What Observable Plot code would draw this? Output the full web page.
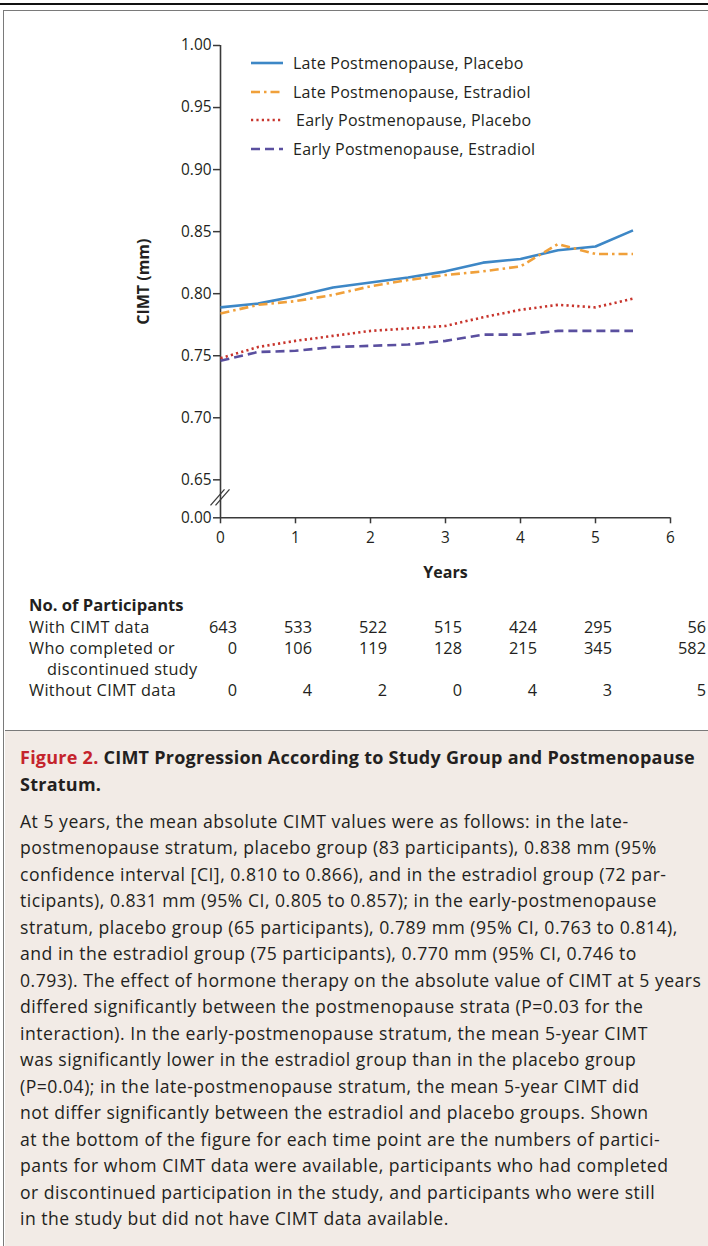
<!DOCTYPE html>
<html>
<head>
<meta charset="utf-8">
<script src="https://cdn.jsdelivr.net/npm/d3@7"></script>
<script src="https://cdn.jsdelivr.net/npm/@observablehq/plot@0.6"></script>
<style>
html, body { margin: 0; padding: 0; background: #fff; }
body { width: 708px; height: 1246px; overflow: hidden; position: relative; font-family: "Open Sans", Lato, sans-serif; color: #231f20; }
#topline { position: absolute; left: 0; top: 3px; width: 708px; height: 2px; background: #111; }
#box { position: absolute; left: 3px; top: 10px; width: 730px; height: 1260px; border: 1.5px solid #7a7a7a; box-sizing: border-box; background: #fff; }
#chart { position: absolute; left: 0; top: 0; }
#legend { position: absolute; left: 251px; top: 49px; font-size: 16px; letter-spacing: 0.25px; }
#legend .row { height: 28.6px; display: flex; align-items: center; white-space: nowrap; }
#legend svg { margin-right: 10px; flex: none; }
#table { position: absolute; left: 29px; top: 594px; font-size: 16.3px; line-height: 21px; letter-spacing: 0.35px; }
#table .head { font-weight: bold; font-size: 16.6px; line-height: 22px; margin-bottom: 1px; letter-spacing: 0; }
#table .grid { display: grid; grid-template-columns: 133px 75px 75px 75px 75px 75px 75px 94px; }
#table .lab { white-space: nowrap; }
#table .lab .ind { padding-left: 18px; }
#table .num { text-align: right; letter-spacing: 0; }
#caption { position: absolute; left: 4.5px; top: 730px; width: 720px; height: 520px; border-top: 1.5px solid #7a7a7a; background: #f2ebe6; }
#caption .title { position: absolute; left: 15.5px; top: 13px; font-weight: bold; font-size: 18px; line-height: 27px; white-space: nowrap; letter-spacing: 0.25px; }
#caption .title .fig { color: #c5242c; }
#caption .body { position: absolute; left: 15.5px; top: 76.5px; font-size: 17.6px; line-height: 26.5px; white-space: nowrap; letter-spacing: 0.5px; }
</style>
</head>
<body>
<div id="topline"></div>
<div id="box"></div>
<div id="chart"></div>
<div id="legend"></div>
<div id="table"></div>
<div id="caption"></div>
<script>
// ---------- data ----------
const years = [0, 0.5, 1, 1.5, 2, 2.5, 3, 3.5, 4, 4.5, 5, 5.5];
const latePlacebo    = [0.789, 0.792, 0.798, 0.805, 0.809, 0.813, 0.818, 0.825, 0.828, 0.835, 0.838, 0.851];
const lateEstradiol  = [0.784, 0.791, 0.794, 0.799, 0.806, 0.811, 0.815, 0.818, 0.822, 0.840, 0.832, 0.832];
const earlyPlacebo   = [0.748, 0.757, 0.762, 0.766, 0.770, 0.772, 0.774, 0.781, 0.787, 0.791, 0.789, 0.796];
const earlyEstradiol = [0.746, 0.753, 0.754, 0.757, 0.758, 0.759, 0.762, 0.767, 0.767, 0.770, 0.770, 0.770];

const seriesNames = ["Late Postmenopause, Placebo", "Late Postmenopause, Estradiol", "Early Postmenopause, Placebo", "Early Postmenopause, Estradiol"];
const seriesValues = [latePlacebo, lateEstradiol, earlyPlacebo, earlyEstradiol];
const seriesColors = ["#3d87c6", "#f0a03a", "#c8352d", "#5a4f9f"];
const seriesDashes = [null, "9,4,2.5,4", "2.2,3.2", "9,5"];

const xTicks = [0, 1, 2, 3, 4, 5, 6];
const yBreak = 0.6194; // position where the broken axis shows 0.00
const yTicks = [yBreak, 0.65, 0.70, 0.75, 0.80, 0.85, 0.90, 0.95, 1.00];
const yLabel = "CIMT (mm)";
const xLabel = "Years";

const tableTitle = "No. of Participants";
const rowLabels = [["With CIMT data"], ["Who completed or", "discontinued study"], ["Without CIMT data"]];
const withCimt      = [643, 533, 522, 515, 424, 295, 56];
const completedDisc = [0, 106, 119, 128, 215, 345, 582];
const withoutCimt   = [0, 4, 2, 0, 4, 3, 5];
const tableRows = [withCimt, completedDisc, withoutCimt];

const captionFig = "Figure 2.";
const captionTitle = [" CIMT Progression According to Study Group and Postmenopause", "Stratum."];
const captionLines = [
  "At 5 years, the mean absolute CIMT values were as follows: in the late-",
  "postmenopause stratum, placebo group (83 participants), 0.838 mm (95%",
  "confidence interval [CI], 0.810 to 0.866), and in the estradiol group (72 par-",
  "ticipants), 0.831 mm (95% CI, 0.805 to 0.857); in the early-postmenopause",
  "stratum, placebo group (65 participants), 0.789 mm (95% CI, 0.763 to 0.814),",
  "and in the estradiol group (75 participants), 0.770 mm (95% CI, 0.746 to",
  "0.793). The effect of hormone therapy on the absolute value of CIMT at 5 years",
  "differed significantly between the postmenopause strata (P=0.03 for the",
  "interaction). In the early-postmenopause stratum, the mean 5-year CIMT",
  "was significantly lower in the estradiol group than in the placebo group",
  "(P=0.04); in the late-postmenopause stratum, the mean 5-year CIMT did",
  "not differ significantly between the estradiol and placebo groups. Shown",
  "at the bottom of the figure for each time point are the numbers of partici-",
  "pants for whom CIMT data were available, participants who had completed",
  "or discontinued participation in the study, and participants who were still",
  "in the study but did not have CIMT data available."
];

// ---------- chart ----------
const fontFamily = '"Open Sans", Lato, sans-serif';
const ink = "#231f20";
const axisColor = "#3a3a3a";

const lineMarks = seriesNames.map((name, i) =>
  Plot.line(years.map((x, j) => ({x, y: seriesValues[i][j]})), {
    x: "x", y: "y",
    stroke: seriesColors[i],
    strokeWidth: 2.6,
    strokeDasharray: seriesDashes[i],
    strokeLinecap: "butt",
    strokeLinejoin: "round"
  })
);

const plot = Plot.plot({
  width: 708,
  height: 590,
  marginTop: 45,
  marginBottom: 72.7,
  marginLeft: 220,
  marginRight: 38,
  style: {fontFamily, fontSize: "15.4px", color: ink, background: "transparent", overflow: "visible"},
  x: {domain: [0, 6]},
  y: {domain: [yBreak, 1.0]},
  marks: [
    Plot.axisY({ticks: yTicks, tickFormat: d => d === yBreak ? "0.00" : d.toFixed(2), tickSize: 7, tickPadding: 2, label: null, stroke: axisColor, strokeWidth: 1.5, fill: ink}),
    Plot.axisX({ticks: xTicks, tickFormat: d => String(d), tickSize: 6, tickPadding: 8, label: null, stroke: axisColor, strokeWidth: 1.5, fill: ink}),
    Plot.ruleX([0], {stroke: axisColor, strokeWidth: 1.6}),
    Plot.ruleY([yBreak], {stroke: axisColor, strokeWidth: 1.6}),
    ...lineMarks,
    Plot.text([yLabel], {text: d => d, frameAnchor: "left", dx: -77, rotate: -90, textAnchor: "middle", lineAnchor: "middle", fontWeight: "bold", fontSize: 16, fill: ink}),
    Plot.text([xLabel], {text: d => d, frameAnchor: "bottom", dy: 55, textAnchor: "middle", lineAnchor: "middle", fontWeight: "bold", fontSize: 16, fill: ink})
  ]
});
document.getElementById("chart").appendChild(plot);

// axis break marks, placed with the plot's scales
{
  const sx = plot.scale("x"), sy = plot.scale("y");
  const cx = sx.apply(0);
  const cy = (sy.apply(0.65) + sy.apply(yBreak)) / 2 - 1;
  const svg = d3.select(plot);
  [-2.5, 2.5].forEach(off => {
    svg.append("line")
      .attr("x1", cx + off - 7).attr("y1", cy + 8)
      .attr("x2", cx + off + 7).attr("y2", cy - 8)
      .attr("stroke", axisColor).attr("stroke-width", 1.3);
  });
}

// ---------- legend ----------
const legend = d3.select("#legend");
seriesNames.forEach((name, i) => {
  const row = legend.append("div").attr("class", "row");
  const sw = row.append("svg").attr("width", 32).attr("height", 10);
  sw.append("line").attr("x1", 0).attr("x2", 32).attr("y1", 5).attr("y2", 5)
    .attr("stroke", seriesColors[i]).attr("stroke-width", 2.6)
    .attr("stroke-dasharray", seriesDashes[i]);
  row.append("span").text(name).style("margin-left", i === 2 ? "3px" : "0px");
});

// ---------- participant table ----------
const table = d3.select("#table");
table.append("div").attr("class", "head").text(tableTitle);
const grid = table.append("div").attr("class", "grid");
tableRows.forEach((vals, r) => {
  const lab = grid.append("div").attr("class", "lab");
  rowLabels[r].forEach((t, k) => lab.append("div").attr("class", k ? "ind" : null).text(t));
  vals.forEach(v => grid.append("div").attr("class", "num").text(v));
});

// ---------- caption ----------
const cap = d3.select("#caption");
const title = cap.append("div").attr("class", "title");
title.append("span").attr("class", "fig").text(captionFig);
title.append("span").text(captionTitle[0]);
title.append("br");
title.append("span").text(captionTitle[1]);
const body = cap.append("div").attr("class", "body");
captionLines.forEach(l => body.append("div").text(l));
</script>
</body>
</html>
